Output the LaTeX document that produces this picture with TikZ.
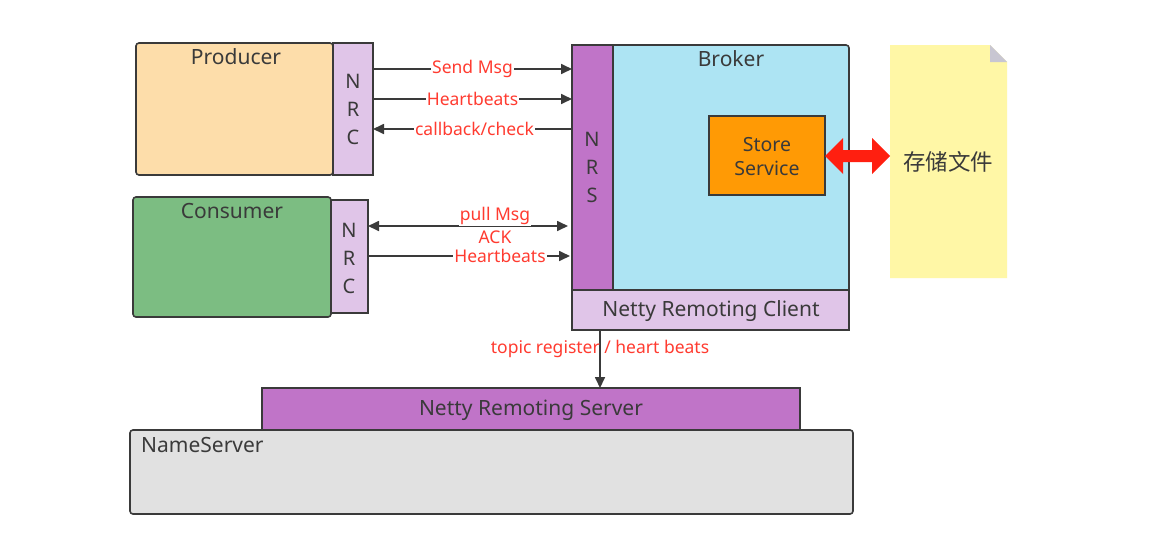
\documentclass[tikz,border=0pt]{standalone}
\usepackage{fontspec}
\setmainfont{Noto Sans}
\newfontfamily\cjk{Noto Sans CJK SC}
\usetikzlibrary{arrows.meta,calc}
\definecolor{edge}{HTML}{3A3A3A}
\definecolor{prodfill}{HTML}{FDDDAA}
\definecolor{consfill}{HTML}{7CBD82}
\definecolor{nrcfill}{HTML}{E0C5E8}
\definecolor{nrsfill}{HTML}{C074C8}
\definecolor{brokerfill}{HTML}{ADE4F3}
\definecolor{storefill}{HTML}{FF9A05}
\definecolor{namefill}{HTML}{E1E1E1}
\definecolor{docfill}{HTML}{FFF7A6}
\definecolor{foldfill}{HTML}{C8C6D2}
\definecolor{lbl}{HTML}{FF3B30}
\definecolor{bigred}{HTML}{FF1F10}
\tikzset{
  box/.style={draw=edge, line width=1.6pt, anchor=north west, inner sep=0pt, outer sep=0pt},
  rbox/.style={box, rounded corners=3pt},
  title/.style={font=\fontsize{21}{25}\selectfont, text=edge, inner sep=0pt},
  vtext/.style={font=\fontsize{20}{28}\selectfont, text=edge, align=center, inner sep=0pt},
  msg/.style={font=\fontsize{17.5}{21}\selectfont, text=lbl, fill=white, inner sep=1pt},
  arr/.style={draw=edge, line width=1.7pt, -{Triangle[length=11pt,width=10pt]}},
  darr/.style={draw=edge, line width=1.7pt, {Triangle[length=11pt,width=10pt]}-{Triangle[length=11pt,width=10pt]}},
}
\begin{document}
\begin{tikzpicture}[x=1pt,y=-1pt]
\useasboundingbox[fill=white] (0,0) rectangle (1159,555);

% Producer with its remoting client
\node[rbox, fill=prodfill, minimum width=197pt, minimum height=132pt] (prod) at (136,43) {};
\node[title] (prodt) at (236,57) {Producer};
\node[box, fill=nrcfill, minimum width=40pt, minimum height=132pt] (pnrc) at (333,43) {};
\node[vtext] (pnrct) at (353,109) {N\\R\\C};

% Consumer with its remoting client
\node[rbox, fill=consfill, minimum width=198pt, minimum height=120pt] (cons) at (133,197) {};
\node[title] (const) at (232,211) {Consumer};
\node[box, fill=nrcfill, minimum width=37pt, minimum height=113pt] (cnrc) at (331,200) {};
\node[vtext] (cnrct) at (349,258) {N\\R\\C};

% Broker
\node[rbox, fill=brokerfill, minimum width=277pt, minimum height=285pt] (broker) at (572,45) {};
\node[box, fill=nrsfill, minimum width=41pt, minimum height=245pt] (nrs) at (572,45) {};
\node[vtext] (nrst) at (592,167) {N\\R\\S};
\node[title] (brokert) at (731,59) {Broker};
\node[box, fill=nrcfill, minimum width=277pt, minimum height=40pt] (nrcl) at (572,290) {};
\node[title] (nrclt) at (711,311) {Netty Remoting Client};
\node[box, fill=storefill, minimum width=116pt, minimum height=79pt] (store) at (709,116) {};
\node[title, align=center, font=\fontsize{19.5}{24}\selectfont] (storet) at (767,157) {Store\\Service};

% Storage file
\fill[docfill] (890,45) -- (990,45) -- (1007,62) -- (1007,278) -- (890,278) -- cycle;
\fill[foldfill] (990,45) -- (990,62) -- (1007,62) -- cycle;
\coordinate (doc) at (890,156);
\node[font=\cjk\fontsize{22.5}{26}\selectfont, text=edge, inner sep=0pt] (doct) at (948,162) {存储文件};

% Store service <-> file
\fill[bigred] (store.east |- 0,156) -- ++(18,-18) -- ++(0,12) -- ($(doc)+(-18,-6)$) -- ++(0,-12) -- (doc) -- ++(-18,18) -- ++(0,-12)
  -- ($(store.east |- 0,156)+(18,6)$) -- ++(0,12) -- cycle;

% NameServer
\node[rbox, fill=namefill, minimum width=723pt, minimum height=84pt] (ns) at (130,430) {};
\node[title, anchor=west] (nst) at (141,445) {NameServer};
\node[box, fill=nrsfill, minimum width=538pt, minimum height=42pt] (nrsv) at (262,388) {};
\node[title] (nrsvt) at (531,410) {Netty Remoting Server};

% Producer traffic
\draw[arr] (pnrc.east |- 0,69) -- node[msg] (m1) {Send Msg} (nrs.west |- 0,69);
\draw[arr] (pnrc.east |- 0,99) -- node[msg] (m2) {Heartbeats} (nrs.west |- 0,99);
\draw[arr] (nrs.west |- 0,129) -- node[msg, pos=0.49] (m3) {callback/check} (pnrc.east |- 0,129);

% Consumer traffic
\draw[darr] (cnrc.east |- 0,226) -- ($(nrs.west |- 0,226)+(-4,0)$);
\node[msg] (m4) at (495,216) {pull Msg};
\node[msg, fill=none] (m5) at (495,237) {ACK};
\draw[arr] (cnrc.east |- 0,256) -- ($(nrs.west |- 0,256)+(-2,0)$);
\node[msg] (m6) at (500,256) {Heartbeats};

% Broker -> NameServer
\draw[arr] (nrcl.south -| 600,0) -- (nrsv.north -| 600,0);
\node[msg, fill=none] (m7) at (600,349) {topic register / heart beats};
\end{tikzpicture}
\end{document}
